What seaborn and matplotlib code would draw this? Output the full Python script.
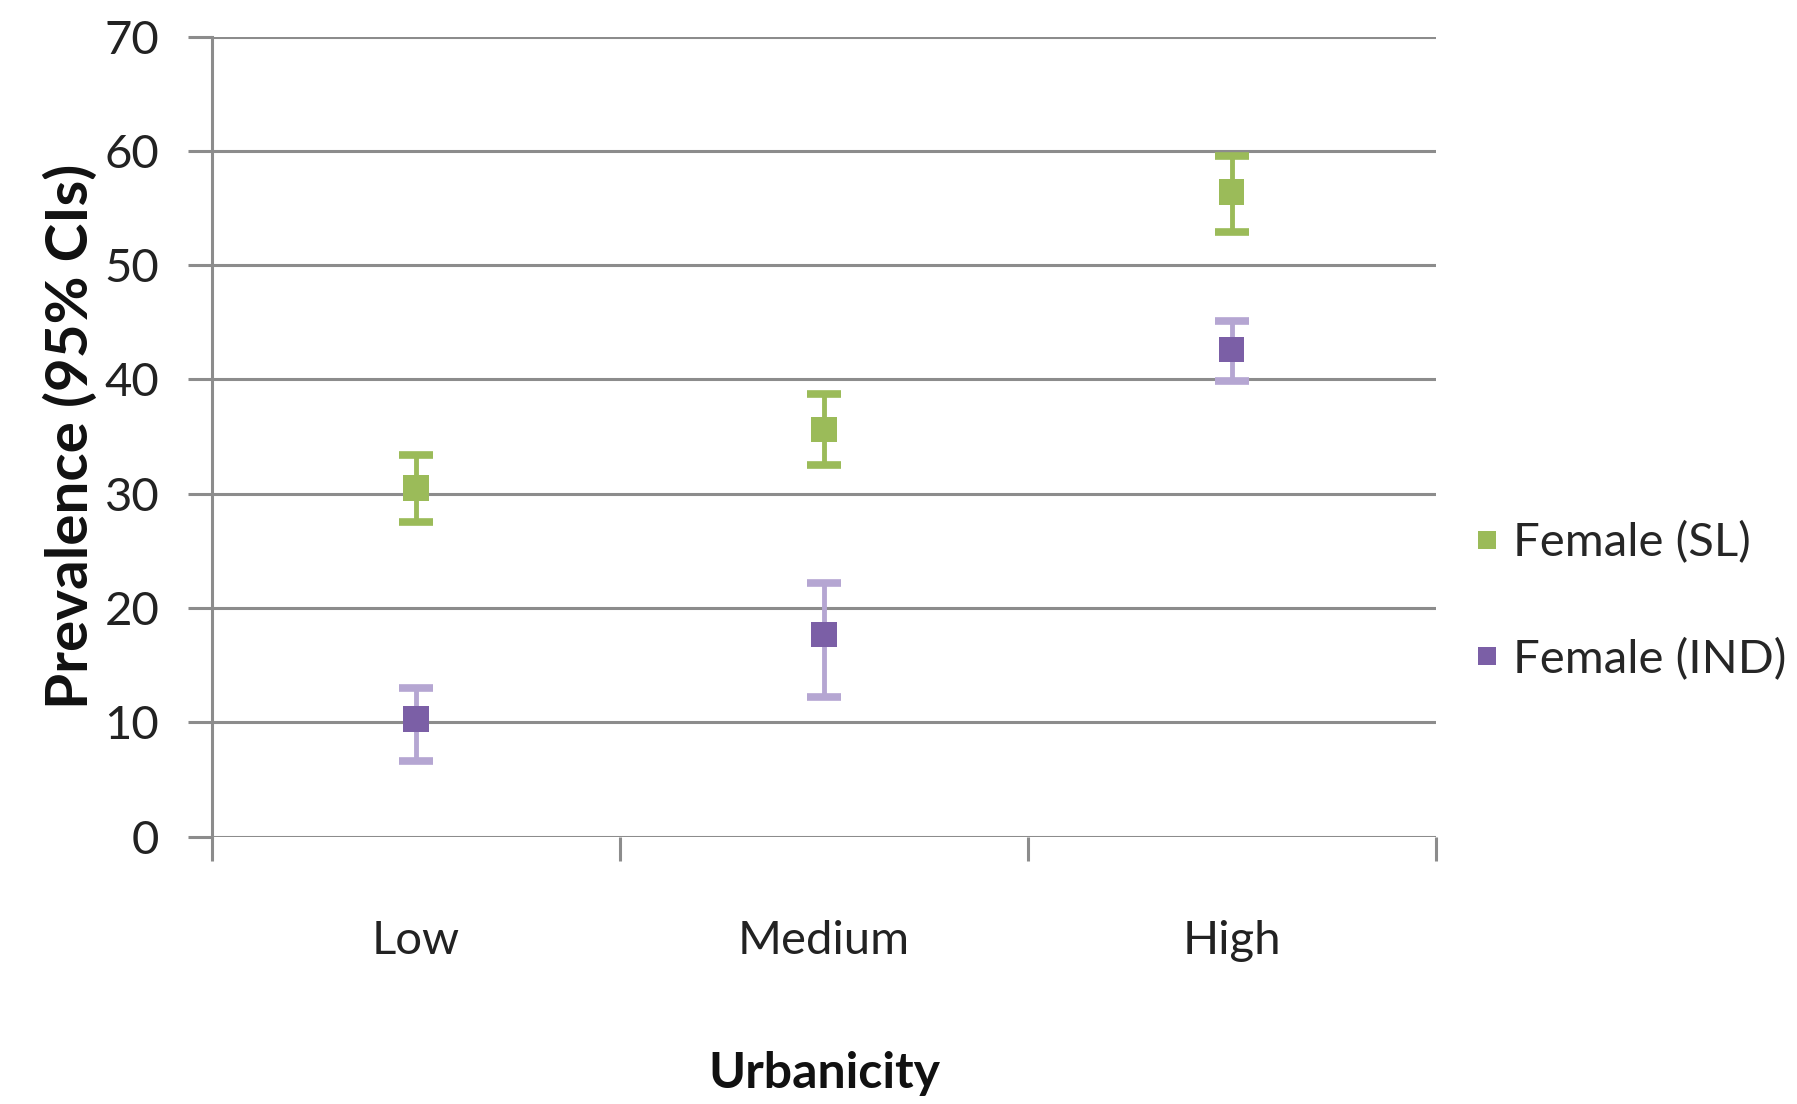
import matplotlib
matplotlib.use("Agg")
import matplotlib.pyplot as plt
import seaborn as sns
import pandas as pd
import numpy as np
from matplotlib.lines import Line2D

categories = ["Low", "Medium", "High"]
series_names = ["Female (SL)", "Female (IND)"]
sl_values = [30.5, 35.6, 56.4]
sl_lower = [27.5, 32.5, 52.9]
sl_upper = [33.4, 38.7, 59.6]
ind_values = [10.3, 17.7, 42.6]
ind_lower = [6.6, 12.2, 39.9]
ind_upper = [13.0, 22.2, 45.1]
y_ticks = [0, 10, 20, 30, 40, 50, 60, 70]

marker_colors = {"Female (SL)": "#9BBB59", "Female (IND)": "#7B5FA6"}
err_colors = {"Female (SL)": "#9BBB59", "Female (IND)": "#B5A6D2"}

df = pd.DataFrame({
    "Urbanicity": categories * 2,
    "Prevalence": sl_values + ind_values,
    "lower": sl_lower + ind_lower,
    "upper": sl_upper + ind_upper,
    "Series": [series_names[0]] * 3 + [series_names[1]] * 3,
})

sns.set_style("white")
plt.rcParams["font.family"] = ["Lato", "DejaVu Sans"]

fig = plt.figure(figsize=(17.97, 11.04), dpi=100)
ax = fig.add_axes([0.118, 0.2422, 0.681, 0.7246])

for y in y_ticks:
    ax.axhline(y, color="#8c8c8c", lw=2.2, zorder=0)

for name in series_names:
    sub = df[df["Series"] == name]
    xpos = [categories.index(c) for c in sub["Urbanicity"]]
    yerr = np.array([sub["Prevalence"] - sub["lower"], sub["upper"] - sub["Prevalence"]])
    ax.errorbar(xpos, sub["Prevalence"], yerr=yerr, fmt="none",
                ecolor=err_colors[name], elinewidth=3.5, capsize=12, capthick=5.5, zorder=2)

sns.scatterplot(data=df, x="Urbanicity", y="Prevalence", hue="Series",
                palette=marker_colors, marker="s", s=330, linewidth=0,
                ax=ax, zorder=3, legend=False)
ax.set_xlim(-0.5, 2.5)
ax.set_ylim(0, 70)

for s in ["top", "right", "bottom"]:
    ax.spines[s].set_visible(False)
ax.spines["left"].set_color("#8c8c8c")
ax.spines["left"].set_linewidth(2.2)

ax.set_yticks(y_ticks)
ax.set_yticklabels([str(v) for v in y_ticks])
ax.tick_params(axis="y", length=17, width=2.2, color="#8c8c8c", pad=21,
               labelsize=34, labelcolor="#222222", left=True)

ax.set_xticks([0, 1, 2])
ax.set_xticklabels(categories)
ax.set_xticks([-0.5, 0.5, 1.5, 2.5], minor=True)
ax.tick_params(axis="x", which="major", length=0, pad=60, labelsize=34, labelcolor="#222222")
ax.tick_params(axis="x", which="minor", length=17, width=2.2, color="#8c8c8c", bottom=True)

ax.set_ylabel("Prevalence (95% CIs)", fontsize=42, fontweight="bold", color="#111111", labelpad=12)
ax.yaxis.set_label_coords(-0.093, 0.5)
ax.set_xlabel("Urbanicity", fontsize=36, fontweight="bold", color="#111111", labelpad=64)

handles = [Line2D([0], [0], marker="s", linestyle="none", markersize=13,
                  markerfacecolor=marker_colors[n], markeredgewidth=0) for n in series_names]
fig.legend(handles, series_names, loc="center left", bbox_to_anchor=(0.808, 0.4555),
           frameon=False, fontsize=34, handletextpad=0.2, labelspacing=1.55,
           handlelength=0.7, borderaxespad=0)

fig.savefig("out.png", dpi=100)
